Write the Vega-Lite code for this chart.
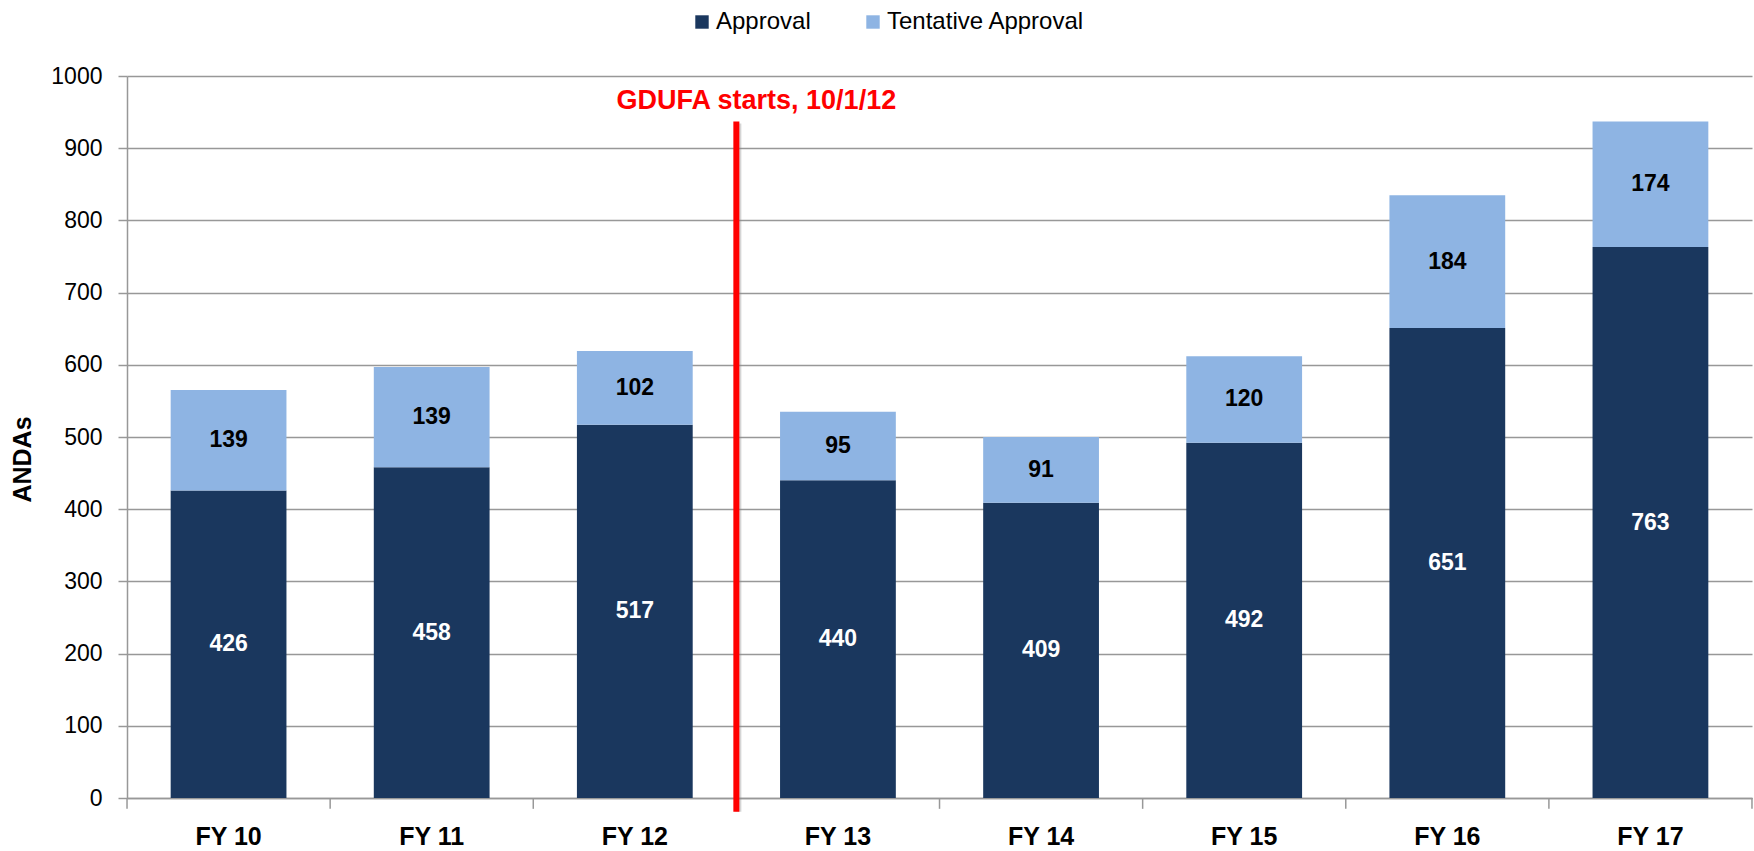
{
  "$schema": "https://vega.github.io/schema/vega-lite/v6.json",
  "width": 1625,
  "height": 722,
  "autosize": {"type": "none"},
  "padding": {"left": 127, "top": 76, "right": 2, "bottom": 53},
  "background": "white",
  "config": {
    "view": {"stroke": null},
    "font": "Liberation Sans",
    "axisY": {
      "gridColor": "#989898", "gridWidth": 1.5,
      "domainColor": "#989898", "domainWidth": 1.5,
      "tickColor": "#989898", "tickWidth": 1.5, "tickSize": 9,
      "labelFontSize": 23, "labelColor": "black", "labelPadding": 16, "labelFont": "Liberation Sans",
      "titleFont": "Liberation Sans", "titleFontSize": 25, "titleFontWeight": "bold", "titleColor": "black"
    },
    "axisX": {
      "domainColor": "#989898", "domainWidth": 1.5,
      "ticks": false, "grid": false,
      "labelFontSize": 25, "labelFontWeight": "bold", "labelColor": "black",
      "labelPadding": 26, "labelAngle": 0, "labelFont": "Liberation Sans"
    }
  },
  "data": {
    "values": [
      {"fy": "FY 10", "series": "Approval", "value": 426},
      {"fy": "FY 10", "series": "Tentative Approval", "value": 139},
      {"fy": "FY 11", "series": "Approval", "value": 458},
      {"fy": "FY 11", "series": "Tentative Approval", "value": 139},
      {"fy": "FY 12", "series": "Approval", "value": 517},
      {"fy": "FY 12", "series": "Tentative Approval", "value": 102},
      {"fy": "FY 13", "series": "Approval", "value": 440},
      {"fy": "FY 13", "series": "Tentative Approval", "value": 95},
      {"fy": "FY 14", "series": "Approval", "value": 409},
      {"fy": "FY 14", "series": "Tentative Approval", "value": 91},
      {"fy": "FY 15", "series": "Approval", "value": 492},
      {"fy": "FY 15", "series": "Tentative Approval", "value": 120},
      {"fy": "FY 16", "series": "Approval", "value": 651},
      {"fy": "FY 16", "series": "Tentative Approval", "value": 184},
      {"fy": "FY 17", "series": "Approval", "value": 763},
      {"fy": "FY 17", "series": "Tentative Approval", "value": 174}
    ]
  },
  "layer": [
    {
      "mark": {"type": "bar"},
      "encoding": {
        "x": {"field": "fy", "type": "nominal", "title": null, "sort": null,
              "scale": {"type": "band", "paddingInner": 0.43, "paddingOuter": 0.215}},
        "y": {"field": "value", "type": "quantitative", "stack": "zero", "title": "ANDAs",
              "scale": {"domain": [0, 1000], "nice": false},
              "axis": {"values": [0, 100, 200, 300, 400, 500, 600, 700, 800, 900, 1000], "format": "d",
                       "titleX": -105, "titleY": 383, "titleAngle": 270,
                       "titleAlign": "center", "titleBaseline": "middle"}},
        "order": {"field": "series", "type": "nominal", "sort": "ascending"},
        "color": {"field": "series", "type": "nominal",
                  "scale": {"domain": ["Approval", "Tentative Approval"], "range": ["#1a375e", "#8eb4e3"]},
                  "legend": {"orient": "none", "legendX": 563, "legendY": -66, "direction": "horizontal",
                             "title": null, "symbolType": "square", "symbolSize": 180, "symbolStrokeWidth": 0,
                             "labelFontSize": 24, "labelFont": "Liberation Sans", "labelColor": "black",
                             "labelLimit": 400, "labelOffset": 2, "columnPadding": 50, "padding": 0}}
      }
    },
    {
      "transform": [
        {"stack": "value", "groupby": ["fy"], "sort": [{"field": "series", "order": "ascending"}], "as": ["v0", "v1"]},
        {"fold": ["v0", "v1"], "as": ["edge", "pos"]},
        {"aggregate": [{"op": "mean", "field": "pos", "as": "mid"}], "groupby": ["fy", "series", "value"]}
      ],
      "mark": {"type": "text", "fontSize": 23, "fontWeight": "bold", "baseline": "middle", "align": "center"},
      "encoding": {
        "x": {"field": "fy", "type": "nominal", "title": null, "sort": null,
              "scale": {"type": "band", "paddingInner": 0.43, "paddingOuter": 0.215}},
        "y": {"field": "mid", "type": "quantitative", "title": "ANDAs"},
        "text": {"field": "value", "type": "quantitative"},
        "color": {"condition": {"test": "datum.series === 'Approval'", "value": "white"}, "value": "black"}
      }
    },
    {
      "transform": [{"filter": "datum.series === 'Approval'"}],
      "mark": {"type": "rule", "color": "#989898", "strokeWidth": 1.5},
      "encoding": {
        "x": {"field": "fy", "type": "nominal", "title": null, "sort": null, "bandPosition": -0.377,
              "scale": {"type": "band", "paddingInner": 0.43, "paddingOuter": 0.215}},
        "y": {"datum": 0},
        "y2": {"datum": -15}
      }
    },
    {
      "transform": [{"filter": "datum.series === 'Approval' && datum.fy === 'FY 17'"}],
      "mark": {"type": "rule", "color": "#989898", "strokeWidth": 1.5},
      "encoding": {
        "x": {"field": "fy", "type": "nominal", "title": null, "sort": null, "bandPosition": 1.377,
              "scale": {"type": "band", "paddingInner": 0.43, "paddingOuter": 0.215}},
        "y": {"datum": 0},
        "y2": {"datum": -15}
      }
    },
    {
      "transform": [{"filter": "datum.series === 'Approval' && datum.fy === 'FY 12'"}],
      "mark": {"type": "rule", "color": "#888888", "strokeWidth": 6, "opacity": 0.35, "xOffset": 2, "yOffset": 2},
      "encoding": {
        "x": {"field": "fy", "type": "nominal", "title": null, "sort": null, "bandPosition": 1.377,
              "scale": {"type": "band", "paddingInner": 0.43, "paddingOuter": 0.215}},
        "y": {"datum": 937},
        "y2": {"datum": -19}
      }
    },
    {
      "transform": [{"filter": "datum.series === 'Approval' && datum.fy === 'FY 12'"}],
      "mark": {"type": "rule", "color": "#ff0000", "strokeWidth": 6},
      "encoding": {
        "x": {"field": "fy", "type": "nominal", "title": null, "sort": null, "bandPosition": 1.377,
              "scale": {"type": "band", "paddingInner": 0.43, "paddingOuter": 0.215}},
        "y": {"datum": 937},
        "y2": {"datum": -19}
      }
    },
    {
      "transform": [{"filter": "datum.series === 'Approval' && datum.fy === 'FY 12'"}],
      "mark": {"type": "text", "color": "#ff0000", "fontSize": 27, "fontWeight": "bold",
               "align": "center", "baseline": "middle", "dx": 20, "text": "GDUFA starts, 10/1/12"},
      "encoding": {
        "x": {"field": "fy", "type": "nominal", "title": null, "sort": null, "bandPosition": 1.377,
              "scale": {"type": "band", "paddingInner": 0.43, "paddingOuter": 0.215}},
        "y": {"datum": 966}
      }
    }
  ]
}
